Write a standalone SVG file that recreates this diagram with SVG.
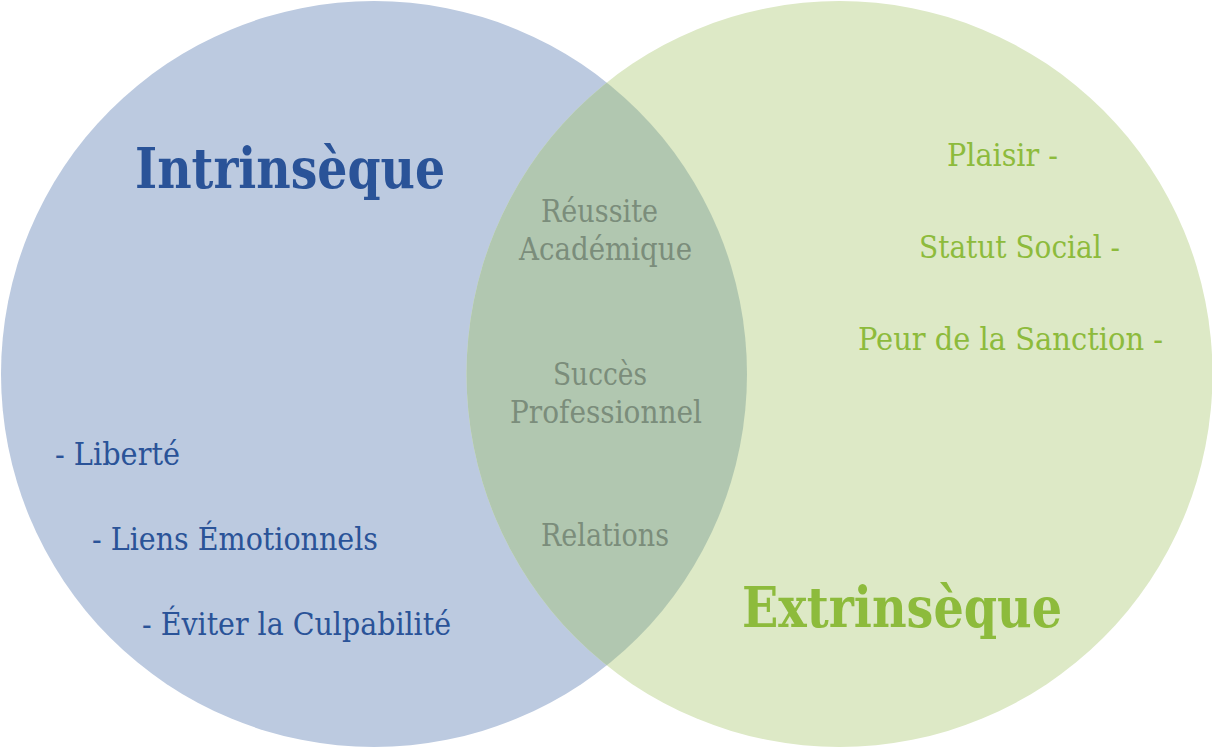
<svg xmlns="http://www.w3.org/2000/svg" width="1212" height="747" viewBox="0 0 1212 747">
<style>
.t{font-family:"DejaVu Serif Condensed","DejaVu Serif","Liberation Serif",serif;font-stretch:condensed;}
.title{font-weight:bold;font-size:56px;}
.blue{fill:#2a5398;}
.green{fill:#8dbb3c;}
.mid{fill:#7b8d7b;font-size:31px;}
.li{font-size:31px;}
</style>
<defs>
<clipPath id="cl"><circle cx="374" cy="374" r="373"/></clipPath>
</defs>
<g id="circle-intrinseque"><circle cx="374" cy="374" r="373" fill="#bccae0"/></g>
<g id="circle-extrinseque"><circle cx="839.5" cy="374" r="373" fill="#dde9c6"/></g>
<g id="overlap"><circle cx="839.5" cy="374" r="373" fill="#b1c7b0" clip-path="url(#cl)"/></g>
<g id="connectors"></g>
<g id="label-intrinseque"><text class="t title blue" x="135" y="188" textLength="310" lengthAdjust="spacingAndGlyphs">Intrinsèque</text></g>
<g id="label-extrinseque"><text class="t title green" x="742" y="627" textLength="320" lengthAdjust="spacingAndGlyphs">Extrinsèque</text></g>
<g id="shared">
<text class="t mid" x="541" y="222" textLength="117" lengthAdjust="spacingAndGlyphs">Réussite</text>
<text class="t mid" x="519" y="260" textLength="173" lengthAdjust="spacingAndGlyphs">Académique</text>
<text class="t mid" x="553" y="385" textLength="94" lengthAdjust="spacingAndGlyphs">Succès</text>
<text class="t mid" x="510" y="423" textLength="192" lengthAdjust="spacingAndGlyphs">Professionnel</text>
<text class="t mid" x="541" y="546" textLength="128" lengthAdjust="spacingAndGlyphs">Relations</text>
</g>
<g id="intrinsic-items">
<text class="t li blue" x="55" y="465" textLength="125" lengthAdjust="spacingAndGlyphs">- Liberté</text>
<text class="t li blue" x="92" y="550" textLength="286" lengthAdjust="spacingAndGlyphs">- Liens Émotionnels</text>
<text class="t li blue" x="142" y="635" textLength="309" lengthAdjust="spacingAndGlyphs">- Éviter la Culpabilité</text>
</g>
<g id="extrinsic-items">
<text class="t li green" x="947" y="166" textLength="111" lengthAdjust="spacingAndGlyphs">Plaisir -</text>
<text class="t li green" x="919" y="258" textLength="201" lengthAdjust="spacingAndGlyphs">Statut Social -</text>
<text class="t li green" x="858" y="350" textLength="305" lengthAdjust="spacingAndGlyphs">Peur de la Sanction -</text>
</g>
</svg>
